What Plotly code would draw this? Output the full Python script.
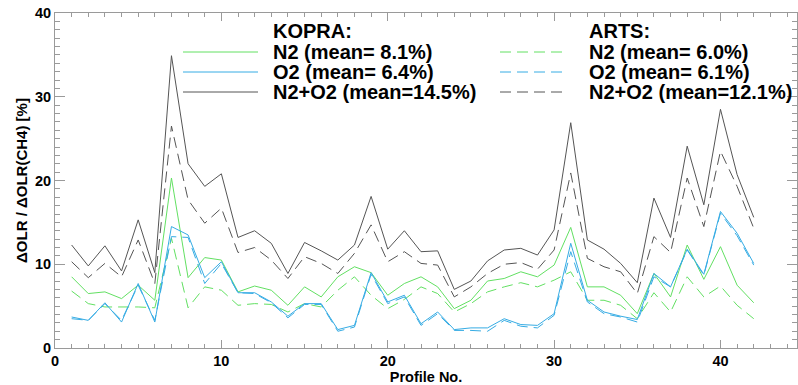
import plotly.graph_objects as go

# ---------------- data ----------------
profile = [1, 2, 3, 4, 5, 6, 7, 8, 9, 10, 11, 12, 13, 14, 15, 16, 17, 18, 19, 20, 21,
           22, 23, 24, 25, 26, 27, 28, 29, 30, 31, 32, 33, 34, 35, 36, 37, 38, 39, 40, 41, 42]

kopra_n2 = [8.5, 6.5, 6.7, 5.9, 7.5, 5.7, 20.3, 8.4, 10.8, 10.5, 6.7, 7.4, 6.9, 5.1, 7.3,
            6.1, 8.5, 9.7, 9.0, 6.3, 7.7, 8.5, 7.3, 4.7, 5.7, 8.0, 8.3, 9.1, 8.5, 9.9,
            14.4, 7.3, 7.3, 6.3, 4.1, 8.9, 6.1, 12.3, 8.2, 12.1, 7.5, 5.4]
kopra_o2 = [3.7, 3.3, 5.4, 3.1, 7.7, 3.1, 14.5, 13.5, 8.4, 10.3, 6.6, 6.6, 5.5, 3.8, 5.3,
            5.3, 2.2, 2.7, 9.0, 5.5, 6.3, 2.9, 4.3, 2.2, 2.4, 2.4, 3.5, 2.8, 2.7, 4.1,
            12.5, 5.7, 4.3, 3.8, 3.4, 8.9, 7.3, 11.8, 8.8, 16.3, 13.7, 10.1]
kopra_n2o2 = [12.3, 9.8, 12.2, 9.2, 15.3, 9.0, 34.9, 22.0, 19.3, 20.8, 13.2, 14.0, 12.5,
              8.9, 12.6, 11.6, 10.5, 12.3, 18.1, 11.8, 14.0, 11.5, 11.6, 7.0, 8.0, 10.4,
              11.7, 11.9, 11.1, 14.1, 26.9, 12.9, 11.8, 10.1, 7.8, 17.9, 13.2, 24.1, 17.1,
              28.5, 20.7, 15.6]

arts_n2 = [6.8, 5.3, 4.9, 4.9, 4.9, 4.8, 13.1, 4.8, 7.3, 6.9, 5.1, 5.3, 5.2, 4.3, 5.3,
           4.9, 6.9, 8.5, 6.3, 4.7, 5.8, 7.3, 6.5, 4.3, 5.3, 6.7, 7.3, 7.8, 7.3, 8.1,
           9.1, 5.7, 5.7, 5.1, 3.5, 6.6, 4.3, 8.5, 6.1, 7.4, 5.1, 3.5]
arts_o2 = [3.5, 3.3, 5.3, 3.3, 7.5, 3.3, 13.3, 13.2, 7.7, 10.1, 6.6, 6.5, 5.4, 3.6, 5.2,
           5.2, 2.0, 2.5, 8.8, 5.3, 6.1, 2.7, 4.1, 2.1, 2.1, 2.0, 3.3, 2.6, 2.4, 3.9,
           11.5, 5.5, 4.1, 3.7, 3.1, 8.5, 7.3, 11.7, 8.7, 16.1, 13.4, 9.9]
arts_n2o2 = [10.3, 8.4, 10.1, 8.5, 12.9, 7.7, 26.5, 17.7, 14.9, 16.7, 11.4, 12.0, 10.5,
             8.3, 10.9, 10.1, 8.9, 11.3, 14.7, 10.3, 11.5, 10.1, 9.9, 6.1, 7.3, 8.9,
             10.0, 10.2, 9.4, 11.7, 20.9, 10.7, 9.7, 9.1, 6.5, 13.3, 11.4, 20.3, 14.5,
             23.5, 19.3, 14.3]

kopra_labels = ["N2 (mean= 8.1%)", "O2 (mean= 6.4%)", "N2+O2 (mean=14.5%)"]
arts_labels = ["N2 (mean= 6.0%)", "O2 (mean= 6.1%)", "N2+O2 (mean=12.1%)"]
x_ticks = [0, 10, 20, 30, 40]
y_ticks = [0, 10, 20, 30, 40]

# ---------------- style ----------------
GREEN = "#62e062"
BLUE = "#36ace4"
GRAY = "#555555"
AXIS = "#9a9a9a"
FONT = "Liberation Sans, Arial, Helvetica, sans-serif"
DASH = "11px,6px"

W, H = 798, 385
ML, MR, MT, MB = 55, 1, 13, 37

fig = go.Figure()

series = [
    (kopra_n2o2, GRAY, "solid"),
    (arts_n2o2, GRAY, DASH),
    (kopra_n2, GREEN, "solid"),
    (arts_n2, GREEN, DASH),
    (kopra_o2, BLUE, "solid"),
    (arts_o2, BLUE, DASH),
]
for ys, col, dash in series:
    fig.add_trace(go.Scatter(x=profile, y=ys, mode="lines",
                             line=dict(color=col, width=1, dash=dash),
                             showlegend=False, hoverinfo="skip"))

# ---------------- hand-built two-column legend ----------------
pw = W - ML - MR
ph = H - MT - MB


def px_x(p):
    return (p - ML) / pw


def px_y(p):
    return (H - MB - p) / ph


leg_font = dict(family=FONT, size=20, color="black", weight="bold")
row_y = [52, 72, 92]
cols = [GREEN, BLUE, GRAY]

for (x0, x1, tx, title, labels, dash) in [
        (183, 258, 271, "KOPRA:", kopra_labels, "solid"),
        (500, 566, 587, "ARTS:", arts_labels, DASH)]:
    fig.add_annotation(x=px_x(tx), y=px_y(31), xref="paper", yref="paper",
                       text=title, showarrow=False, xanchor="left", yanchor="middle",
                       font=leg_font)
    for ry, col, lab in zip(row_y, cols, labels):
        fig.add_shape(type="line", xref="paper", yref="paper",
                      x0=px_x(x0), x1=px_x(x1), y0=px_y(ry), y1=px_y(ry),
                      line=dict(color=col, width=1, dash=dash))
        fig.add_annotation(x=px_x(tx), y=px_y(ry), xref="paper", yref="paper",
                           text=lab, showarrow=False, xanchor="left", yanchor="middle",
                           font=leg_font)

tick_font = dict(family=FONT, size=14.5, color="black", weight="bold")
title_font = dict(family=FONT, size=15, color="black", weight="bold")

fig.update_xaxes(range=[0, 44.6], tickvals=x_ticks, ticks="inside", ticklen=8,
                 tickcolor=AXIS, tickwidth=1, showline=True, linecolor=AXIS, linewidth=1,
                 mirror="ticks", showgrid=False, zeroline=False, automargin=False,
                 minor=dict(ticks="inside", ticklen=4, dtick=1, tickcolor=AXIS,
                            showgrid=False),
                 tickfont=tick_font,
                 title=dict(text="Profile No.", font=tick_font, standoff=0))
fig.update_yaxes(range=[0, 40], tickvals=y_ticks, ticks="inside", ticklen=10,
                 tickcolor=AXIS, tickwidth=1, showline=True, linecolor=AXIS, linewidth=1,
                 mirror="ticks", showgrid=False, zeroline=False, automargin=False,
                 minor=dict(ticks="inside", ticklen=5, dtick=1, tickcolor=AXIS,
                            showgrid=False),
                 tickfont=tick_font,
                 title=dict(text="ΔOLR / ΔOLR(CH4) [%]", font=title_font, standoff=3))

fig.update_layout(width=W, height=H, margin=dict(l=ML, r=MR, t=MT, b=MB),
                  plot_bgcolor="white", paper_bgcolor="white",
                  font=dict(family=FONT, color="black"))

fig.write_html("out.html",
               config={"displayModeBar": False, "staticPlot": True},
               post_script="document.body.style.margin='0';"
                           "document.body.style.padding='0';"
                           "document.body.style.overflow='hidden';")
